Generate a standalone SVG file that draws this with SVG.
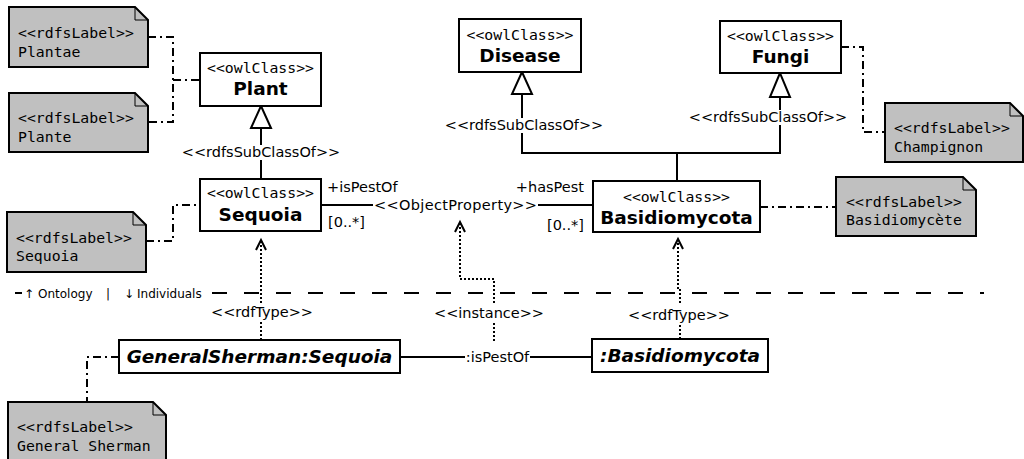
<svg xmlns="http://www.w3.org/2000/svg" width="1024" height="459" viewBox="0 0 1024 459">
<style>
.box{fill:#fff;stroke:#000;stroke-width:2}
.note{fill:#c0c0c0;stroke:#000;stroke-width:2}
.fold{fill:none;stroke:#000;stroke-width:1}
.mono{font-family:"DejaVu Sans Mono","Liberation Mono",monospace;font-size:14.8px;fill:#000}
.st{font-family:"DejaVu Sans Mono","Liberation Mono",monospace;font-size:14.8px;fill:#000;text-anchor:middle}
.name{font-family:"DejaVu Sans","Liberation Sans",sans-serif;font-size:18.5px;font-weight:bold;fill:#000;text-anchor:middle}
.inst{font-family:"DejaVu Sans","Liberation Sans",sans-serif;font-size:18.5px;font-weight:bold;font-style:italic;fill:#000;text-anchor:middle}
.lbl{font-family:"DejaVu Sans","Liberation Sans",sans-serif;font-size:14.5px;fill:#000}
.mid{text-anchor:middle}
.end{text-anchor:end}
.small{font-family:"DejaVu Sans","Liberation Sans",sans-serif;font-size:12px;fill:#000}
.solid{fill:none;stroke:#000;stroke-width:2}
.dashdot{fill:none;stroke:#000;stroke-width:2;stroke-dasharray:8,4,2,4}
.dot{fill:none;stroke:#000;stroke-width:2;stroke-dasharray:2,2}
.dash{fill:none;stroke:#000;stroke-width:2;stroke-dasharray:15,17}
.tri{fill:#fff;stroke:#000;stroke-width:2}
.open{fill:none;stroke:#000;stroke-width:2}
.bg{fill:#fff}
</style>
<g id="connectors">
<polyline class="dashdot" points="148,37 173,37 173,122 148,122"/>
<line class="dashdot" x1="173" y1="80" x2="200" y2="80"/>
<polyline class="dashdot" points="146,241 173,241 173,205 200,205"/>
<polyline class="dashdot" points="841,47 863,47 863,132 885,132"/>
<line class="dashdot" x1="760" y1="207" x2="836" y2="207"/>
<polyline class="dashdot" points="119,357 87,357 87,402"/>
<line class="solid" x1="261" y1="128" x2="261" y2="179"/>
<polygon class="tri" points="261,106 251,128 271,128"/>
<rect class="bg" x="181" y="145" width="160" height="15"/>
<text class="lbl mid" x="261" y="157">&lt;&lt;rdfsSubClassOf&gt;&gt;</text>
<polyline class="solid" points="522,94 522,153 780,153 780,97"/>
<line class="solid" x1="677" y1="153" x2="677" y2="181"/>
<polygon class="tri" points="522,72 512,94 532,94"/>
<polygon class="tri" points="780,73 770,97 790,97"/>
<rect class="bg" x="444" y="118" width="160" height="15"/>
<text class="lbl mid" x="524" y="130">&lt;&lt;rdfsSubClassOf&gt;&gt;</text>
<rect class="bg" x="688" y="110" width="160" height="15"/>
<text class="lbl mid" x="768" y="122">&lt;&lt;rdfsSubClassOf&gt;&gt;</text>
<line class="solid" x1="321" y1="205" x2="373" y2="205"/>
<line class="solid" x1="538" y1="205" x2="593" y2="205"/>
<text class="lbl mid" x="455.5" y="210" textLength="163">&lt;&lt;ObjectProperty&gt;&gt;</text>
<text class="lbl" x="327" y="192">+isPestOf</text>
<text class="lbl" x="328" y="227">[0..*]</text>
<text class="lbl end" x="584" y="192">+hasPest</text>
<text class="lbl end" x="584" y="230">[0..*]</text>
<line class="solid" x1="15" y1="293" x2="22" y2="293"/>
<text class="small" x="24" y="298">↑</text>
<text class="small" x="38" y="298">Ontology</text>
<text class="small" x="106" y="298">|</text>
<text class="small" x="124" y="298">↓</text>
<text class="small" x="137" y="298">Individuals</text>
<line class="dash" x1="212" y1="293" x2="984" y2="293"/>
<line class="dot" x1="261" y1="241" x2="261" y2="303"/>
<line class="dot" x1="261" y1="322" x2="261" y2="340"/>
<polyline class="open" points="256,250 261,240 266,250"/>
<text class="lbl mid" x="262" y="317">&lt;&lt;rdfType&gt;&gt;</text>
<polyline class="dot" points="494,303 494,279 460,279 460,223"/>
<line class="dot" x1="494" y1="323" x2="494" y2="343"/>
<polyline class="open" points="455,232 460,222 465,232"/>
<text class="lbl mid" x="489" y="318">&lt;&lt;instance&gt;&gt;</text>
<polyline class="dot" points="680,303 680,290 678,290 678,240"/>
<line class="dot" x1="680" y1="325" x2="680" y2="339"/>
<polyline class="open" points="673,249 678,239 683,249"/>
<text class="lbl mid" x="679" y="320">&lt;&lt;rdfType&gt;&gt;</text>
<line class="solid" x1="400" y1="357" x2="465" y2="357"/>
<line class="solid" x1="530" y1="357" x2="592" y2="357"/>
<text class="lbl mid" x="497.5" y="362">:isPestOf</text>
</g>
<g id="note-plantae">
<path class="note" d="M9,7 H135 L148,20 V67 H9 Z"/>
<polyline class="fold" points="135,7 135,20 148,20"/>
<text class="mono" x="18" y="38">&lt;&lt;rdfsLabel&gt;&gt;</text>
<text class="mono" x="18" y="57">Plantae</text>
</g>
<g id="note-plante">
<path class="note" d="M9,93 H135 L148,106 V152 H9 Z"/>
<polyline class="fold" points="135,93 135,106 148,106"/>
<text class="mono" x="18" y="123">&lt;&lt;rdfsLabel&gt;&gt;</text>
<text class="mono" x="18" y="142">Plante</text>
</g>
<g id="note-sequoia">
<path class="note" d="M7,212 H133 L146,225 V272 H7 Z"/>
<polyline class="fold" points="133,212 133,225 146,225"/>
<text class="mono" x="16" y="243">&lt;&lt;rdfsLabel&gt;&gt;</text>
<text class="mono" x="16" y="261">Sequoia</text>
</g>
<g id="note-champignon">
<path class="note" d="M885,103 H1010 L1023,116 V162 H885 Z"/>
<polyline class="fold" points="1010,103 1010,116 1023,116"/>
<text class="mono" x="894" y="133">&lt;&lt;rdfsLabel&gt;&gt;</text>
<text class="mono" x="894" y="152">Champignon</text>
</g>
<g id="note-basidiomycete">
<path class="note" d="M836,177 H963 L976,190 V236 H836 Z"/>
<polyline class="fold" points="963,177 963,190 976,190"/>
<text class="mono" x="846" y="207">&lt;&lt;rdfsLabel&gt;&gt;</text>
<text class="mono" x="846" y="225">Basidiomycète</text>
</g>
<g id="note-generalsherman">
<path class="note" d="M8,402 H153 L166,415 V475 H8 Z"/>
<polyline class="fold" points="153,402 153,415 166,415"/>
<text class="mono" x="17" y="432">&lt;&lt;rdfsLabel&gt;&gt;</text>
<text class="mono" x="17" y="451">General Sherman</text>
</g>
<g id="class-plant">
<rect class="box" x="200" y="53" width="121" height="53"/>
<text class="st" x="260.5" y="73">&lt;&lt;owlClass&gt;&gt;</text>
<text class="name" x="260.5" y="95">Plant</text>
</g>
<g id="class-disease">
<rect class="box" x="459" y="19" width="122" height="53"/>
<text class="st" x="520" y="40">&lt;&lt;owlClass&gt;&gt;</text>
<text class="name" x="520" y="62">Disease</text>
</g>
<g id="class-fungi">
<rect class="box" x="720" y="21" width="121" height="52"/>
<text class="st" x="780.5" y="41">&lt;&lt;owlClass&gt;&gt;</text>
<text class="name" x="780.5" y="63">Fungi</text>
</g>
<g id="class-sequoia">
<rect class="box" x="200" y="179" width="121" height="52"/>
<text class="st" x="260.5" y="198">&lt;&lt;owlClass&gt;&gt;</text>
<text class="name" x="260.5" y="221">Sequoia</text>
</g>
<g id="class-basidiomycota">
<rect class="box" x="593" y="181" width="167" height="51"/>
<text class="st" x="676.5" y="202">&lt;&lt;owlClass&gt;&gt;</text>
<text class="name" x="676.5" y="224">Basidiomycota</text>
</g>
<g id="individual-generalsherman">
<rect class="box" x="119" y="340" width="281" height="33"/>
<text class="inst" x="259.5" y="363">GeneralSherman:Sequoia</text>
</g>
<g id="individual-basidiomycota">
<rect class="box" x="592" y="339" width="176" height="33"/>
<text class="inst" x="680" y="362">:Basidiomycota</text>
</g>
</svg>
